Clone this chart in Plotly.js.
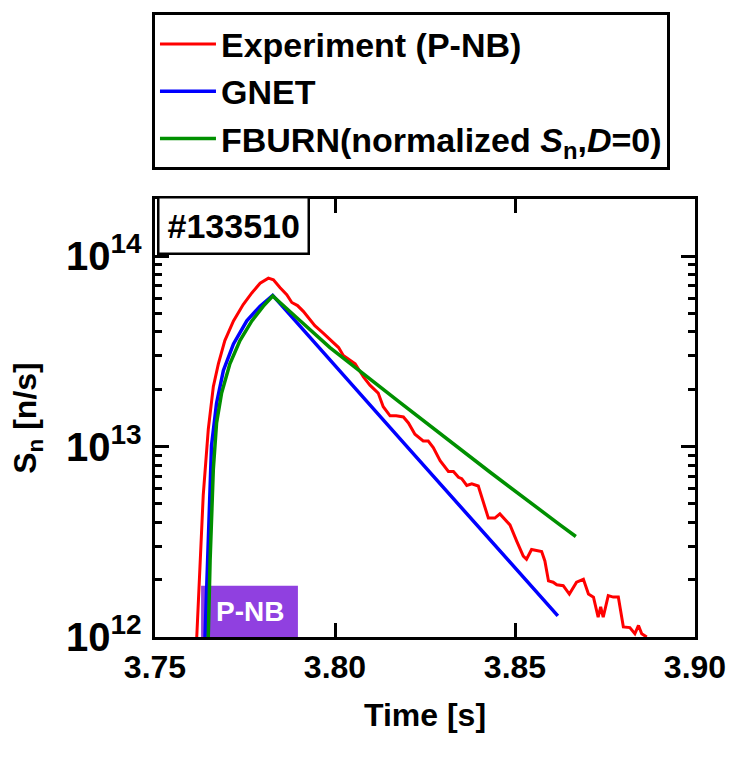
<!DOCTYPE html>
<html>
<head>
<meta charset="utf-8">
<script src="https://cdn.plot.ly/plotly-3.0.1.min.js"></script>
<style>html,body{margin:0;padding:0;background:#fff;}#chart{width:733px;height:762px;}</style>
</head>
<body>
<div id="chart"></div>
<script>
// Experiment (P-NB) neutron rate
const expTime = [3.7616,3.7625,3.7634,3.7648,3.7662,3.7676,3.7694,3.7718,3.7745,3.7769,3.7792,3.7815,3.7829,3.7847,3.7866,3.7880,3.7896,3.7912,3.7930,3.7944,3.7968,3.7995,3.8010,3.8023,3.8040,3.8056,3.8079,3.8097,3.8120,3.8134,3.8153,3.8170,3.8190,3.8204,3.8222,3.8245,3.8259,3.8273,3.8292,3.8315,3.8329,3.8343,3.8352,3.8366,3.8380,3.8398,3.8426,3.8444,3.8458,3.8486,3.8505,3.8523,3.8532,3.8546,3.8574,3.8583,3.8593,3.8606,3.8616,3.8634,3.8651,3.8671,3.8690,3.8704,3.8718,3.8731,3.8738,3.8745,3.8759,3.8773,3.8787,3.8801,3.8819,3.8833,3.8843,3.8852,3.8866];
const expSn = [1.0e12,2.4e12,5.56e12,1.23e13,2.06e13,2.72e13,3.60e13,4.57e13,5.57e13,6.41e13,7.21e13,7.66e13,7.52e13,6.84e13,6.28e13,5.71e13,5.50e13,5.13e13,4.62e13,4.31e13,3.93e13,3.53e13,3.31e13,3.01e13,2.85e13,2.72e13,2.32e13,2.10e13,1.91e13,1.62e13,1.45e13,1.45e13,1.43e13,1.33e13,1.16e13,1.07e13,1.07e13,9.89e12,8.43e12,7.40e12,7.40e12,6.90e12,6.78e12,6.25e12,6.38e12,6.21e12,4.21e12,4.21e12,4.43e12,3.88e12,3.18e12,2.66e12,2.56e12,2.88e12,2.81e12,2.51e12,1.97e12,1.94e12,1.88e12,1.86e12,1.68e12,1.94e12,2.01e12,1.68e12,1.62e12,1.27e12,1.44e12,1.27e12,1.65e12,1.62e12,1.62e12,1.13e12,1.12e12,1.04e12,1.15e12,1.04e12,1.0e12];

// GNET
const gnetTime = [3.7639,3.7648,3.7657,3.7671,3.7690,3.7718,3.7755,3.7792,3.7827,3.8200,3.8619];
const gnetSn = [1.0e12,3.72e12,1.01e13,1.69e13,2.51e13,3.46e13,4.57e13,5.46e13,6.22e13,1.0e13,1.29e12];

// FBURN (normalized Sn, D=0)
const fburnTime = [3.7648,3.7653,3.7662,3.7671,3.7685,3.7708,3.7736,3.7769,3.7801,3.7827,3.7894,3.7986,3.8181,3.8431,3.8625,3.8669];
const fburnSn = [1.0e12,2.51e12,7.62e12,1.33e13,1.91e13,2.72e13,3.60e13,4.57e13,5.46e13,6.17e13,4.75e13,3.31e13,1.70e13,7.33e12,3.88e12,3.37e12];

const seriesNames = ['Experiment (P-NB)', 'GNET', 'FBURN(normalized <i>S</i><sub>n</sub>,<i>D</i>=0)'];
const xTickVals = [3.75, 3.80, 3.85, 3.90];
const xTickText = ['3.75', '3.80', '3.85', '3.90'];
const shotLabel = '#133510';
const beamLabel = 'P-NB';
const beamStart = 3.7628, beamEnd = 3.7897;

const FONT = 'Liberation Sans, Arial, Helvetica, sans-serif';

const traces = [
  {x: expTime, y: expSn, name: seriesNames[0], type: 'scatter', mode: 'lines', line: {color: '#ff0000', width: 3}},
  {x: gnetTime, y: gnetSn, name: seriesNames[1], type: 'scatter', mode: 'lines', line: {color: '#0000ff', width: 3.5}},
  {x: fburnTime, y: fburnSn, name: seriesNames[2], type: 'scatter', mode: 'lines', line: {color: '#009000', width: 3.5}}
];

const axisCommon = {
  showline: true, linecolor: 'black', linewidth: 3, mirror: 'ticks',
  ticks: 'inside', ticklen: 14, tickwidth: 3, tickcolor: 'black',
  showgrid: false, zeroline: false,
  tickfont: {family: FONT, size: 32, color: 'black', weight: 'bold'}
};

const layout = {
  width: 733, height: 762,
  margin: {l: 155, r: 38, t: 193, b: 125},
  paper_bgcolor: 'white', plot_bgcolor: 'white',
  font: {family: FONT, size: 32, color: 'black', weight: 'bold'},
  showlegend: true,
  legend: {
    x: -0.0056, y: 1.426, xanchor: 'left', yanchor: 'top',
    bordercolor: 'black', borderwidth: 3, bgcolor: 'white',
    itemwidth: 56,
    font: {family: FONT, size: 34, color: 'black', weight: 'bold'},
    tracegroupgap: 0
  },
  xaxis: Object.assign({}, axisCommon, {
    range: [3.75, 3.90], tickvals: xTickVals, ticktext: xTickText,
    title: {text: 'Time [s]', font: {family: FONT, size: 32, color: 'black', weight: 'bold'}, standoff: 20}
  }),
  yaxis: Object.assign({}, axisCommon, {
    type: 'log', range: [12, 14.3], dtick: 1, exponentformat: 'power',
    ticklabelstandoff: 4,
    minor: {ticks: 'inside', ticklen: 7, tickwidth: 3, tickcolor: 'black', showgrid: false},
    title: {text: 'S<sub>n</sub> [n/s]', font: {family: FONT, size: 32, color: 'black', weight: 'bold'}, standoff: 20}
  }),
  shapes: [
    {type: 'rect', xref: 'x', yref: 'paper', x0: beamStart, x1: beamEnd, y0: 0, y1: 0.117,
     fillcolor: '#9040e0', line: {width: 0}, layer: 'below'}
  ],
  annotations: [
    {text: shotLabel, xref: 'paper', yref: 'paper', x: 0.004, y: 1.006, xanchor: 'left', yanchor: 'top',
     showarrow: false, bordercolor: 'black', borderwidth: 2.5, borderpad: 8, bgcolor: 'white',
     font: {family: FONT, size: 34, color: 'black', weight: 'bold'}},
    {text: beamLabel, xref: 'x', yref: 'paper', x: (beamStart + beamEnd) / 2, y: 0.0585,
     xanchor: 'center', yanchor: 'middle', showarrow: false,
     font: {family: FONT, size: 28, color: 'white', weight: 'bold'}}
  ]
};

Plotly.newPlot('chart', traces, layout, {displayModeBar: false, staticPlot: true});
</script>
</body>
</html>
